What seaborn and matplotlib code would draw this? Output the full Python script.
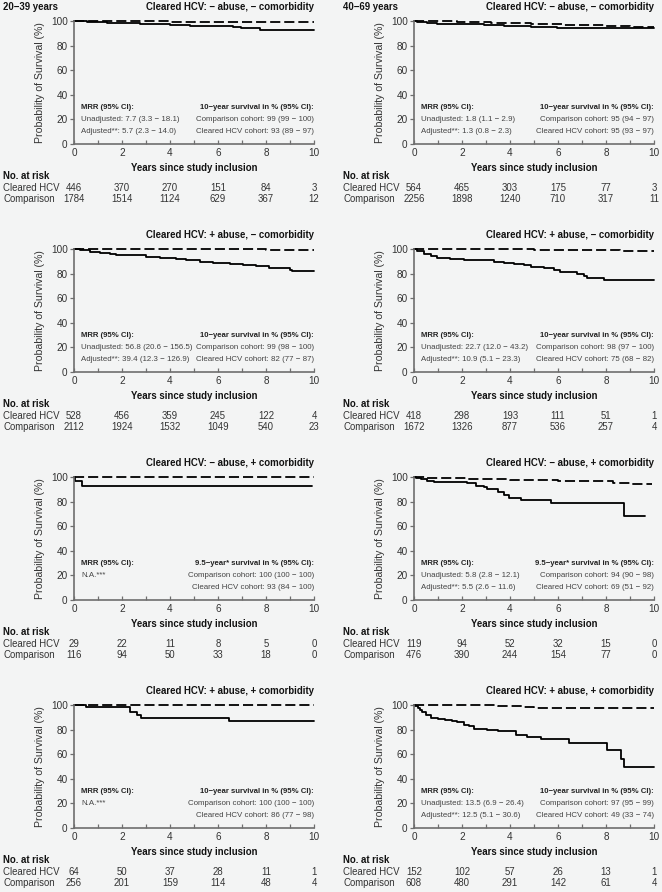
import pandas as pd
import seaborn as sns
import matplotlib.pyplot as plt

# ---- Kaplan-Meier steps (years, survival %) ----
# panel order: row by row, left = 20-39 years, right = 40-69 years
hcv_t1 = [0, 0.53, 1.36, 2.74, 4.0, 4.82, 5.24, 6.62, 6.97, 7.73, 10]
hcv_s1 = [100, 99.2, 98.1, 97.6, 96.8, 96.2, 96.0, 95.1, 94.0, 93.0, 93.0]
cmp_t1 = [0, 1.5, 4, 7, 10]
cmp_s1 = [100, 99.8, 99.5, 99.2, 99.0]

hcv_t2 = [0, 0.14, 0.55, 0.97, 2.08, 2.9, 3.75, 4.86, 5.97, 10]
hcv_s2 = [100, 98.9, 98.4, 97.6, 97.3, 96.8, 96.2, 95.4, 94.6, 94.6]
cmp_t2 = [0, 0.5, 1.8, 3.2, 4.86, 6.25, 7.9, 9.0, 10]
cmp_s2 = [100, 99.6, 99.2, 98.6, 97.8, 97.0, 96.2, 95.4, 95.1]

hcv_t3 = [0, 0.25, 0.66, 1.08, 1.5, 1.77, 3.02, 3.57, 4.27, 4.68, 5.24, 5.79,
          6.48, 7.04, 7.59, 8.14, 8.98, 9.1, 10]
hcv_s3 = [100, 98.9, 97.8, 96.7, 95.6, 94.8, 93.2, 92.6, 91.8, 91.0, 89.6, 88.8,
          87.7, 86.9, 85.8, 84.7, 83.1, 82.3, 82.3]
cmp_t3 = [0, 5, 8, 9.1, 10]
cmp_s3 = [100, 99.7, 99.4, 98.8, 98.8]

hcv_t4 = [0, 0.14, 0.4, 0.7, 0.97, 1.5, 2.08, 2.64, 3.33, 3.75, 4.17, 4.58, 4.86,
          5.4, 5.83, 6.1, 6.8, 7.08, 7.22, 7.9, 10]
hcv_s4 = [100, 98, 96, 94, 93, 92, 91.3, 90.7, 89.6, 88.6, 87.7, 86.6, 85.6,
          84.5, 82.6, 81, 79.6, 78.2, 76.3, 74.7, 74.7]
cmp_t4 = [0, 3, 5, 7.3, 8.6, 10]
cmp_s4 = [100, 99.6, 99.3, 99.0, 98.0, 98.0]

hcv_t5 = [0, 0.05, 0.35, 9.9]
hcv_s5 = [100, 96.5, 93, 93]
cmp_t5 = [0, 10]
cmp_s5 = [100, 100]

hcv_t6 = [0, 0.1, 0.28, 0.55, 0.83, 2.2, 2.6, 2.9, 3.05, 3.5, 3.75, 3.96, 4.44,
          5.7, 8.75, 9.62]
hcv_s6 = [100, 99.3, 98.4, 96.7, 96, 95, 93, 91.6, 90, 87.5, 85.6, 82.9, 81,
          78.8, 68.5, 68.5]
cmp_t6 = [0, 0.5, 2.2, 4, 6, 7.5, 8.3, 9.0, 9.9]
cmp_s6 = [100, 99.5, 98.5, 97.5, 97, 96.5, 95.5, 94.5, 94.3]

hcv_t7 = [0, 0.5, 2.33, 2.63, 2.8, 6.45, 10]
hcv_s7 = [100, 98.1, 94.4, 92, 89.5, 86.6, 86.6]
cmp_t7 = [0, 10]
cmp_s7 = [100, 100]

hcv_t8 = [0, 0.05, 0.15, 0.25, 0.35, 0.5, 0.7, 1.0, 1.3, 1.6, 1.8, 2.08, 2.3,
          2.5, 3.05, 3.5, 4.17, 4.24, 4.7, 5.3, 6.46, 8.05, 8.64, 8.75, 10]
hcv_s8 = [100, 99, 97.5, 96, 94, 92, 89.5, 89, 88, 87, 86, 84, 83,
          80.6, 79.6, 79.2, 78.5, 76, 74, 72, 69, 63.5, 56.5, 49.5, 49.5]
cmp_t8 = [0, 2, 3.5, 4.6, 5, 10]
cmp_s8 = [100, 99.6, 99, 98, 97.2, 97.2]

# ---- numbers at risk at 0, 2, 4, 6, 8, 10 years ----
risk_years = [0, 2, 4, 6, 8, 10]
risk_hcv = [[446, 370, 270, 151, 84, 3], [564, 465, 303, 175, 77, 3],
            [528, 456, 359, 245, 122, 4], [418, 298, 193, 111, 51, 1],
            [29, 22, 11, 8, 5, 0], [119, 94, 52, 32, 15, 0],
            [64, 50, 37, 28, 11, 1], [152, 102, 57, 26, 13, 1]]
risk_cmp = [[1784, 1514, 1124, 629, 367, 12], [2256, 1898, 1240, 710, 317, 11],
            [2112, 1924, 1532, 1049, 540, 23], [1672, 1326, 877, 536, 257, 4],
            [116, 94, 50, 33, 18, 0], [476, 390, 244, 154, 77, 0],
            [256, 201, 159, 114, 48, 4], [608, 480, 291, 142, 61, 4]]

# ---- texts ----
ages = ["20\u221239 years", "40\u221269 years"]
titles = ["Cleared HCV: \u2212 abuse, \u2212 comorbidity"] * 2 + \
         ["Cleared HCV: + abuse, \u2212 comorbidity"] * 2 + \
         ["Cleared HCV: \u2212 abuse, + comorbidity"] * 2 + \
         ["Cleared HCV: + abuse, + comorbidity"] * 2
mrr_lines = [
    ["Unadjusted: 7.7 (3.3 \u2212 18.1)", "Adjusted**: 5.7 (2.3 \u2212 14.0)"],
    ["Unadjusted: 1.8 (1.1 \u2212 2.9)", "Adjusted**: 1.3 (0.8 \u2212 2.3)"],
    ["Unadjusted: 56.8 (20.6 \u2212 156.5)", "Adjusted**: 39.4 (12.3 \u2212 126.9)"],
    ["Unadjusted: 22.7 (12.0 \u2212 43.2)", "Adjusted**: 10.9 (5.1 \u2212 23.3)"],
    ["N.A.***"],
    ["Unadjusted: 5.8 (2.8 \u2212 12.1)", "Adjusted**: 5.5 (2.6 \u2212 11.6)"],
    ["N.A.***"],
    ["Unadjusted: 13.5 (6.9 \u2212 26.4)", "Adjusted**: 12.5 (5.1 \u2212 30.6)"],
]
surv_heads = ["10\u2212year survival in % (95% CI):"] * 4 + \
             ["9.5\u2212year* survival in % (95% CI):"] * 2 + \
             ["10\u2212year survival in % (95% CI):"] * 2
surv_lines = [
    ["Comparison cohort: 99 (99 \u2212 100)", "Cleared HCV cohort: 93 (89 \u2212 97)"],
    ["Comparison cohort: 95 (94 \u2212 97)", "Cleared HCV cohort: 95 (93 \u2212 97)"],
    ["Comparison cohort: 99 (98 \u2212 100)", "Cleared HCV cohort: 82 (77 \u2212 87)"],
    ["Comparison cohort: 98 (97 \u2212 100)", "Cleared HCV cohort: 75 (68 \u2212 82)"],
    ["Comparison cohort: 100 (100 \u2212 100)", "Cleared HCV cohort: 93 (84 \u2212 100)"],
    ["Comparison cohort: 94 (90 \u2212 98)", "Cleared HCV cohort: 69 (51 \u2212 92)"],
    ["Comparison cohort: 100 (100 \u2212 100)", "Cleared HCV cohort: 86 (77 \u2212 98)"],
    ["Comparison cohort: 97 (95 \u2212 99)", "Cleared HCV cohort: 49 (33 \u2212 74)"],
]

hcv_t = [hcv_t1, hcv_t2, hcv_t3, hcv_t4, hcv_t5, hcv_t6, hcv_t7, hcv_t8]
hcv_s = [hcv_s1, hcv_s2, hcv_s3, hcv_s4, hcv_s5, hcv_s6, hcv_s7, hcv_s8]
cmp_t = [cmp_t1, cmp_t2, cmp_t3, cmp_t4, cmp_t5, cmp_t6, cmp_t7, cmp_t8]
cmp_s = [cmp_s1, cmp_s2, cmp_s3, cmp_s4, cmp_s5, cmp_s6, cmp_s7, cmp_s8]

# ---- style / layout ----
sns.set_theme(style="ticks")
plt.rcParams["font.family"] = ["Liberation Sans", "DejaVu Sans"]

BG = "#f3f4f4"
SPINE = "#6e6e6e"
TXT = "#333333"
W, H = 662, 892
col_left = [74, 414]
row_top = [21, 249, 477, 705]
AX_W, AX_H = 240, 123

fig = plt.figure(figsize=(W / 100, H / 100), dpi=100, facecolor=BG)

for c in range(2):
    fig.text(3 / W if c == 0 else 343 / W, 1 - 6.5 / H, ages[c], ha="left", va="center",
             fontsize=6.9, fontweight="bold", color="#111")

for i in range(8):
    r, c = divmod(i, 2)
    ax = fig.add_axes([col_left[c] / W, 1 - (row_top[r] + AX_H) / H, AX_W / W, AX_H / H])
    ax.set_facecolor(BG)

    df = pd.concat([
        pd.DataFrame({"t": hcv_t[i], "s": hcv_s[i], "grp": "Cleared HCV"}),
        pd.DataFrame({"t": cmp_t[i], "s": cmp_s[i], "grp": "Comparison"}),
    ])
    sns.lineplot(data=df, x="t", y="s", style="grp",
                 dashes={"Cleared HCV": "", "Comparison": (5.6, 2.2)},
                 color="black", linewidth=1.3, estimator=None,
                 drawstyle="steps-post", legend=False, ax=ax, clip_on=False)

    ax.set_xlim(0, 10)
    ax.set_ylim(0, 100)
    ax.set_xticks(range(0, 11, 2))
    ax.set_xticks(range(1, 10, 2), minor=True)
    ax.set_yticks(range(0, 101, 20))
    ax.tick_params(axis="x", which="both", direction="in", length=3, width=0.9,
                   color=SPINE, labelsize=7.2, labelcolor=TXT, pad=3)
    ax.tick_params(axis="y", direction="out", length=3, width=0.9,
                   color=SPINE, labelsize=7.2, labelcolor=TXT, pad=1.5)
    sns.despine(ax=ax)
    for sp in ["left", "bottom"]:
        ax.spines[sp].set_color(SPINE)
        ax.spines[sp].set_linewidth(1.2)

    ax.set_xlabel("")
    ax.set_ylabel("Probability of Survival (%)", fontsize=7.6, color=TXT)
    ax.yaxis.set_label_coords(-29 / AX_W, 0.5)

    tr = ax.get_xaxis_transform()
    ax.text(10, 1 + 14 / AX_H, titles[i], transform=tr, ha="right", va="center",
            fontsize=6.9, fontweight="bold", color="#111")
    ax.text(5, -24 / AX_H, "Years since study inclusion", transform=tr, ha="center",
            va="center", fontsize=6.9, fontweight="bold", color="#111")

    # statistics boxes
    ax.text(0.29, 30, "MRR (95% CI):", ha="left", va="center", fontsize=5.6,
            fontweight="bold", color="#222")
    for k, line in enumerate(mrr_lines[i]):
        ax.text(0.29, [20.3, 10.3][k], line, ha="left", va="center", fontsize=5.7, color="#444")
    ax.text(10, 30, surv_heads[i], ha="right", va="center", fontsize=5.6,
            fontweight="bold", color="#222")
    for k, line in enumerate(surv_lines[i]):
        ax.text(10, [20.3, 10.3][k], line, ha="right", va="center", fontsize=5.7, color="#444")

    # number at risk table
    lab_x = (3 if c == 0 else 343) / W
    y0 = row_top[r] + AX_H
    fig.text(lab_x, 1 - (y0 + 32) / H, "No. at risk", ha="left", va="center",
             fontsize=6.9, fontweight="bold", color="#111")
    fig.text(lab_x, 1 - (y0 + 44) / H, "Cleared HCV", ha="left", va="center",
             fontsize=6.9, color=TXT)
    fig.text(lab_x, 1 - (y0 + 55) / H, "Comparison", ha="left", va="center",
             fontsize=6.9, color=TXT)
    for yr, n1, n2 in zip(risk_years, risk_hcv[i], risk_cmp[i]):
        ax.text(yr, -44 / AX_H, str(n1), transform=tr, ha="center", va="center",
                fontsize=6.9, color=TXT)
        ax.text(yr, -55 / AX_H, str(n2), transform=tr, ha="center", va="center",
                fontsize=6.9, color=TXT)

fig.savefig("out.png", dpi=100, facecolor=BG)
